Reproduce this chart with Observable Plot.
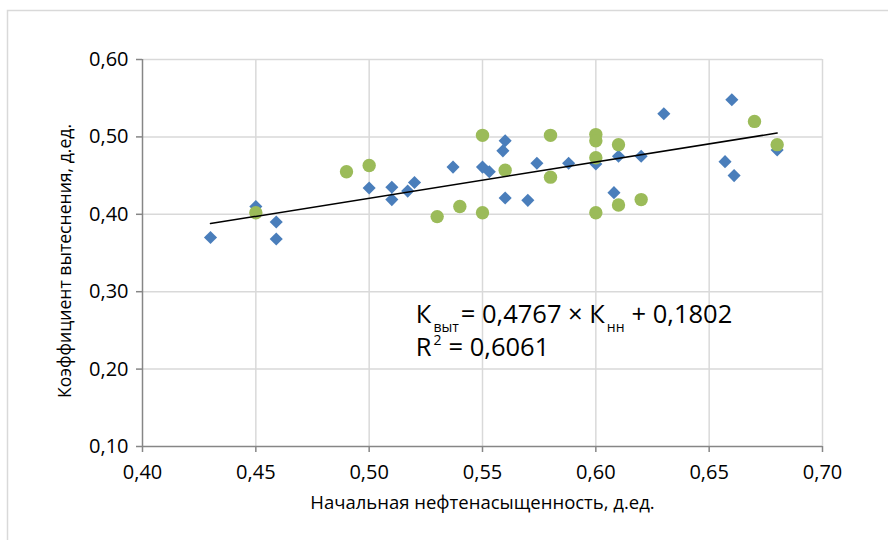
<!DOCTYPE html>
<html><head><meta charset="utf-8">
<script src="https://cdn.jsdelivr.net/npm/d3@7"></script>
<script src="https://cdn.jsdelivr.net/npm/@observablehq/plot@0.6"></script>
<style>body{margin:0;background:#fff;} #chart svg{display:block;}</style>
</head><body><div id="chart"></div>
<script>
// Blue diamonds
const blueX = [0.430,0.450,0.459,0.459,0.500,0.510,0.510,0.517,0.520,0.537,0.550,0.553,0.560,0.559,0.560,0.570,0.574,0.588,0.600,0.610,0.608,0.620,0.630,0.657,0.661,0.660,0.680];
const blueY = [0.370,0.410,0.390,0.368,0.434,0.435,0.419,0.430,0.441,0.461,0.461,0.455,0.495,0.482,0.421,0.418,0.466,0.466,0.465,0.475,0.428,0.475,0.530,0.468,0.450,0.548,0.483];
// Green circles
const greenX = [0.450,0.490,0.500,0.530,0.540,0.550,0.550,0.560,0.580,0.580,0.600,0.600,0.600,0.600,0.610,0.610,0.620,0.670,0.680];
const greenY = [0.402,0.455,0.463,0.397,0.410,0.502,0.402,0.457,0.502,0.448,0.503,0.495,0.473,0.402,0.490,0.412,0.419,0.520,0.490];
// Trend line endpoints (as drawn)
const trendX = [0.43, 0.68];
const trendY = [0.388, 0.505];
// Ticks
const xTicks = [0.40,0.45,0.50,0.55,0.60,0.65,0.70];
const yTicks = [0.10,0.20,0.30,0.40,0.50,0.60];
const xLabel = "Начальная нефтенасыщенность, д.ед.";
const yLabel = "Коэффициент вытеснения, д.ед.";
// Equation text pieces: [text, role] (role: n = normal, sub = subscript, sup = superscript)
const eqLine1 = [["К","n"],["выт","sub"],["= 0,4767 × К","n"],["нн","sub"],["+ 0,1802","n"]];
const eqLine2 = [["R","n"],["2","sup"],["= 0,6061","n"]];
// Equation text anchors (data coordinates)
const eqAnchor = [0.5208, 0.259];
const r2Anchor = [0.5208, 0.2163];

const blue = blueX.map((x,i)=>({x, y: blueY[i]}));
const green = greenX.map((x,i)=>({x, y: greenY[i]}));
const trend = trendX.map((x,i)=>({x, y: trendY[i]}));
const fmt = d => d.toFixed(2).replace(".", ",");
const FONT = "'Open Sans', sans-serif";
const GRID = "#d9d9d9", AXIS = "#868686";

const chart = Plot.plot({
  width: 888, height: 540,
  marginLeft: 142, marginRight: 66, marginTop: 59, marginBottom: 94,
  style: {fontFamily: FONT, background: "#fff", color: "#000"},
  x: {domain: [0.40, 0.70]},
  y: {domain: [0.10, 0.60]},
  marks: [
    Plot.gridX(xTicks.slice(1), {stroke: GRID, strokeOpacity: 1, strokeWidth: 1.5}),
    Plot.gridY(yTicks.slice(1), {stroke: GRID, strokeOpacity: 1, strokeWidth: 1.5}),
    Plot.axisX(xTicks, {tickFormat: fmt, tickSize: 6, tickPadding: 12, stroke: AXIS, strokeWidth: 1.5, fontSize: 20, label: null, fill: "#000"}),
    Plot.axisY(yTicks, {tickFormat: fmt, tickSize: 6, tickPadding: 8, stroke: AXIS, strokeWidth: 1.5, fontSize: 20, label: null, fill: "#000"}),
    Plot.ruleY([0.10], {stroke: AXIS, strokeWidth: 1.5}),
    Plot.ruleX([0.40], {stroke: AXIS, strokeWidth: 1.5}),
    Plot.dot(blue, {x: "x", y: "y", symbol: "diamond2", r: 5.9, fill: "#4a7ebb", stroke: "none"}),
    Plot.dot(green, {x: "x", y: "y", symbol: "circle", r: 6.7, fill: "#9bbb59", stroke: "none"}),
    Plot.line(trend, {x: "x", y: "y", stroke: "#000", strokeWidth: 1.5}),
    Plot.text([xLabel], {frameAnchor: "bottom", textAnchor: "middle", dy: 62, fontSize: 18.5, fill: "#000"}),
    Plot.text([yLabel], {frameAnchor: "left", textAnchor: "middle", dx: -77, dy: 8, rotate: -90, fontSize: 17.6, fill: "#000"})
  ]
});
document.getElementById("chart").appendChild(chart);

const svg = d3.select(chart);
const sx = chart.scale("x"), sy = chart.scale("y");
// light frame around chart area
svg.append("path").attr("d", "M7.5,540V10.5H888").attr("fill", "none").attr("stroke", GRID).attr("stroke-width", 1.5);

const eq = svg.append("g").attr("font-family", FONT).attr("fill", "#000").attr("text-anchor", "start");
function writeLine(pieces, anchor) {
  let cx = sx.apply(anchor[0]);
  const by = sy.apply(anchor[1]);
  let prev = null;
  for (const [txt, role] of pieces) {
    const size = role === "n" ? 25.5 : 14;
    const off = role === "sub" ? 9 : role === "sup" ? -11 : 0;
    // spacing: a space before normal text that follows a subscript + word
    let gap = 0;
    if (prev === "n" && role !== "n") gap = 2;
    else if (prev && prev !== "n" && role === "n") gap = txt.startsWith("=") && pieces[0][0] === "К" && prev === "sub" && txt.length > 8 ? 2 : 7;
    cx += gap;
    const t = eq.append("text").attr("x", cx).attr("y", by + off).attr("font-size", size).text(txt);
    cx += t.node().getComputedTextLength();
    prev = role;
  }
}
writeLine(eqLine1, eqAnchor);
writeLine(eqLine2, r2Anchor);
</script></body></html>
